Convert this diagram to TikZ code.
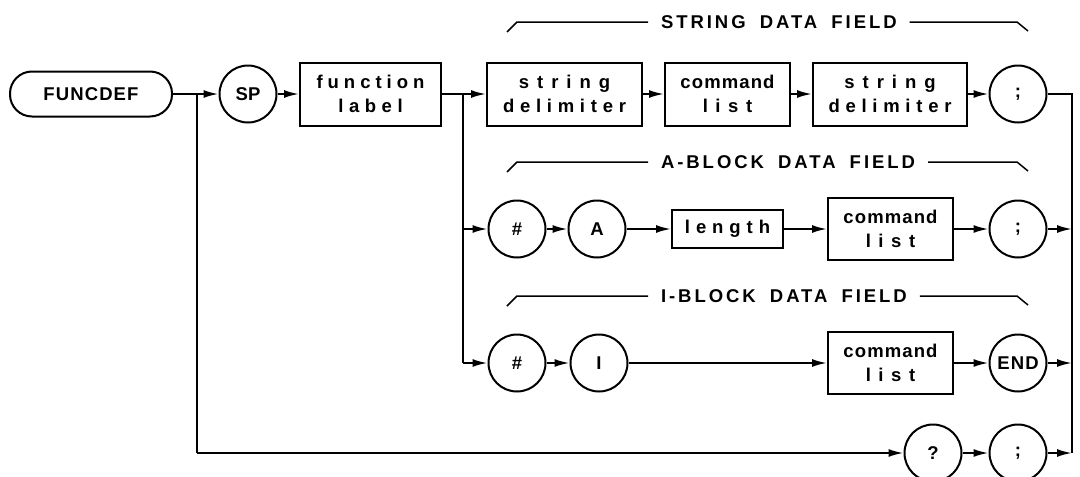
\documentclass[tikz,border=0pt]{standalone}
\usepackage{fontspec}
\setmainfont{Liberation Sans}
\usetikzlibrary{arrows.meta}
\newcommand\lsp[2]{{\addfontfeature{LetterSpace=#1}#2}}
\begin{document}
\begin{tikzpicture}[x=1pt,y=-1pt,
  font=\fontsize{18.5}{24}\selectfont\bfseries,
  line width=2pt,
  boxn/.style={draw,rectangle,inner sep=0pt,align=center,minimum height=63pt},
  circn/.style={draw,circle,inner sep=0pt,minimum size=57pt},
  rbox/.style={draw,rectangle,rounded corners=22pt,inner sep=0pt,minimum width=162pt,minimum height=45pt},
  arr/.style={-{Latex[length=15pt,width=8pt]}},
  lbl/.style={inner xsep=12pt,inner ysep=0pt,anchor=west}]
\useasboundingbox (0,0) rectangle (1080,477);

% row 1
\node[rbox] (funcdef) at (91,94) {\lsp{6}{FUNCDEF}};
\node[circn] (sp) at (248,94) {SP};
\node[boxn,minimum width=141pt] (flabel) at (370.5,94) {\lsp{27}{function}\\\lsp{30}{label}};
\node[boxn,minimum width=155pt] (sd1) at (564.5,94) {\lsp{43}{string}\\\lsp{31}{delimiter}};
\node[boxn,minimum width=125pt] (cl1) at (727.5,94) {\lsp{6}{command}\\\lsp{41}{list}};
\node[boxn,minimum width=154pt] (sd2) at (890,94) {\lsp{43}{string}\\\lsp{31}{delimiter}};
\node[circn] (semi1) at (1018,94) {;};

% row 2
\node[circn] (hashA) at (517,229) {\#};
\node[circn] (aA) at (597,229) {A};
\node[boxn,minimum width=111pt,minimum height=38pt] (len) at (727.5,229) {\lsp{32}{length}};
\node[boxn,minimum width=125pt,minimum height=62pt] (cl2) at (890.5,229) {\lsp{6}{command}\\\lsp{41}{list}};
\node[circn] (semi2) at (1018,229) {;};

% row 3
\node[circn] (hashI) at (517,363) {\#};
\node[circn] (iI) at (599,363) {I};
\node[boxn,minimum width=125pt,minimum height=62pt] (cl3) at (890.5,363) {\lsp{6}{command}\\\lsp{41}{list}};
\node[circn] (endn) at (1018,363) {\lsp{6}{END}};

% row 4
\node[circn] (q) at (933,453) {?};
\node[circn] (semi4) at (1018,453) {;};

% junctions
\coordinate (j1) at (197,94);
\coordinate (j1b) at (197,453);
\coordinate (j2) at (463,94);
\coordinate (j2a) at (463,229);
\coordinate (j2b) at (463,363);
\coordinate (r1) at (1072,94);
\coordinate (r2) at (1072,229);
\coordinate (r3) at (1072,363);
\coordinate (r4) at (1072,453);

% connectors
\draw[arr] (funcdef) -- (sp);
\draw (j1) -- (j1b);
\draw[arr] (j1b) -- (q);
\draw[arr] (sp) -- (flabel);
\draw[arr] (flabel) -- (sd1);
\draw (j2) -- (j2b);
\draw[arr] (sd1) -- (cl1);
\draw[arr] (cl1) -- (sd2);
\draw[arr] (sd2) -- (semi1);
\draw (semi1) -- (r1) -- (r4);
\draw[arr] (j2a) -- (hashA);
\draw[arr] (hashA) -- (aA);
\draw[arr] (aA) -- (len);
\draw[arr] (len) -- (cl2);
\draw[arr] (cl2) -- (semi2);
\draw[arr] (semi2) -- (r2);
\draw[arr] (j2b) -- (hashI);
\draw[arr] (hashI) -- (iI);
\draw[arr] (iI) -- (cl3);
\draw[arr] (cl3) -- (endn);
\draw[arr] (endn) -- (r3);
\draw[arr] (q) -- (semi4);
\draw[arr] (semi4) -- (r4);

% field labels with brackets
\foreach \nm/\yy/\txt in {strl/22/STRING\hspace{6pt} DATA\hspace{6pt} FIELD, abl/162/A-BLOCK\hspace{6pt} DATA\hspace{6pt} FIELD, ibl/296/I-BLOCK\hspace{6pt} DATA\hspace{6pt} FIELD}{
  \node[lbl] (\nm) at (648,\yy) {\lsp{16}{\txt}};
  \coordinate (\nm a) at (507,\yy+10);
  \coordinate (\nm b) at (517,\yy);
  \coordinate (\nm c) at (1017,\yy);
  \coordinate (\nm d) at (1028,\yy+9);
  \draw[line width=1.5pt] (\nm a) -- (\nm b) -- (\nm.west);
  \draw[line width=1.5pt] (\nm.east) -- (\nm c) -- (\nm d);
}
\end{tikzpicture}
\end{document}
